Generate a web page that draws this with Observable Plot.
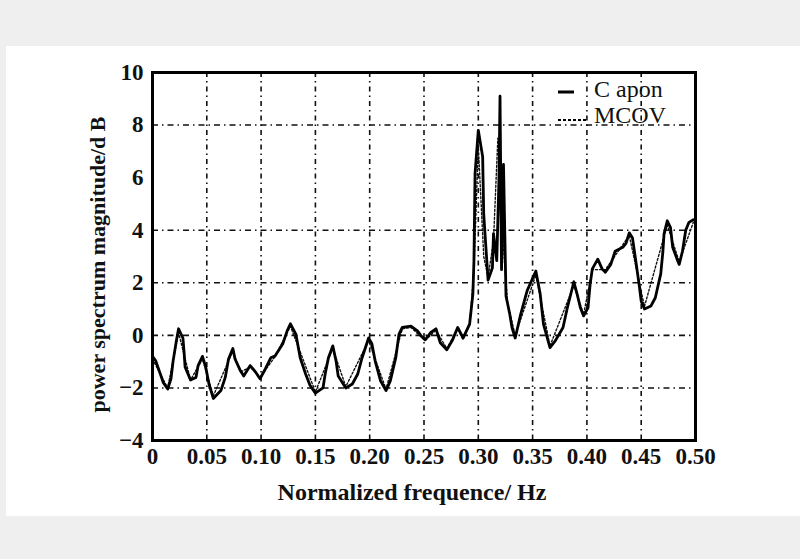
<!DOCTYPE html>
<html>
<head>
<meta charset="utf-8">
<script src="https://cdn.jsdelivr.net/npm/d3@7"></script>
<script src="https://cdn.jsdelivr.net/npm/@observablehq/plot@0.6"></script>
<style>
  html, body { margin: 0; padding: 0; background: #efefef; }
  #panel { position: absolute; left: 6px; top: 46px; width: 794px; height: 470px; background: #ffffff; }
  #chart { position: absolute; left: 0; top: 0; }
  #legend { position: absolute; left: 0; top: 0; }
</style>
</head>
<body>
<div id="panel"></div>
<div id="chart"></div>
<svg id="legend" width="800" height="559"></svg>
<script>
// ---- data ----
const freq = [0.000, 0.003, 0.010, 0.014, 0.017, 0.019, 0.022, 0.024, 0.028, 0.029, 0.030, 0.035, 0.040, 0.042, 0.046, 0.049, 0.052, 0.056, 0.063, 0.067, 0.070, 0.074, 0.076, 0.081, 0.084, 0.090, 0.095, 0.099, 0.104, 0.109, 0.113, 0.120, 0.124, 0.127, 0.132, 0.136, 0.141, 0.145, 0.150, 0.157, 0.159, 0.162, 0.166, 0.169, 0.171, 0.178, 0.184, 0.189, 0.193, 0.199, 0.202, 0.205, 0.210, 0.215, 0.219, 0.224, 0.227, 0.230, 0.238, 0.244, 0.247, 0.251, 0.256, 0.261, 0.265, 0.271, 0.276, 0.281, 0.286, 0.292, 0.295, 0.296, 0.297, 0.300, 0.304, 0.305, 0.307, 0.309, 0.313, 0.314, 0.317, 0.319, 0.320, 0.3214, 0.3232, 0.3255, 0.329, 0.331, 0.334, 0.339, 0.345, 0.353, 0.357, 0.360, 0.366, 0.371, 0.378, 0.382, 0.388, 0.391, 0.394, 0.397, 0.401, 0.403, 0.405, 0.410, 0.414, 0.417, 0.422, 0.426, 0.433, 0.436, 0.439, 0.442, 0.445, 0.448, 0.450, 0.453, 0.459, 0.463, 0.468, 0.470, 0.471, 0.474, 0.477, 0.479, 0.483, 0.485, 0.488, 0.491, 0.494, 0.498];
const capon = [-0.8, -0.97, -1.8, -2.04, -1.65, -0.97, -0.2, 0.25, -0.1, -0.6, -1.2, -1.7, -1.6, -1.15, -0.8, -1.2, -1.85, -2.4, -2.1, -1.6, -0.9, -0.5, -0.9, -1.35, -1.55, -1.15, -1.4, -1.65, -1.27, -0.85, -0.78, -0.32, 0.17, 0.44, 0.05, -0.85, -1.47, -1.9, -2.2, -2.0, -1.47, -0.85, -0.4, -0.97, -1.55, -2.0, -1.85, -1.47, -0.85, -0.1, -0.32, -0.97, -1.73, -2.1, -1.73, -0.85, 0.05, 0.3, 0.35, 0.17, 0.0, -0.17, 0.1, 0.25, -0.28, -0.55, -0.2, 0.3, -0.1, 0.43, 1.57, 2.84, 6.15, 7.8, 6.8, 4.6, 3.35, 2.1, 2.57, 3.87, 2.84, 5.9, 9.1, 2.5, 6.5, 1.5, 0.8, 0.3, -0.1, 0.8, 1.7, 2.45, 1.57, 0.43, -0.47, -0.2, 0.3, 1.05, 2.04, 1.57, 1.05, 0.74, 1.05, 1.96, 2.53, 2.9, 2.53, 2.4, 2.7, 3.2, 3.35, 3.5, 3.9, 3.7, 2.84, 1.96, 1.3, 1.0, 1.12, 1.43, 2.34, 3.2, 3.85, 4.36, 4.1, 3.35, 2.9, 2.7, 3.2, 4.0, 4.3, 4.4];

const mcovFreq = [0.000, 0.014, 0.024, 0.035, 0.046, 0.056, 0.074, 0.081, 0.090, 0.099, 0.113, 0.127, 0.150, 0.166, 0.178, 0.199, 0.215, 0.230, 0.238, 0.251, 0.261, 0.271, 0.281, 0.286, 0.292, 0.296, 0.300, 0.305, 0.309, 0.314, 0.318, 0.322, 0.327, 0.334, 0.353, 0.366, 0.388, 0.397, 0.405, 0.417, 0.439, 0.453, 0.474, 0.485, 0.498];
const mcov = [-0.9, -2.0, 0.1, -1.7, -0.9, -2.3, -0.6, -1.4, -1.2, -1.6, -0.8, 0.35, -2.15, -0.5, -1.95, -0.2, -2.05, 0.25, 0.3, -0.2, 0.2, -0.5, 0.25, -0.15, 0.4, 2.5, 7.2, 3.0, 2.2, 3.6, 7.5, 4.0, 1.2, 0.0, 2.3, -0.4, 1.9, 0.8, 2.5, 2.5, 3.8, 1.1, 4.2, 2.8, 4.3];

const xTicks = [0, 0.05, 0.10, 0.15, 0.20, 0.25, 0.30, 0.35, 0.40, 0.45, 0.50];
const xTickLabels = ["0", "0.05", "0.10", "0.15", "0.20", "0.25", "0.30", "0.35", "0.40", "0.45", "0.50"];
const yTicks = [-4, -2, 0, 2, 4, 6, 8, 10];
const yTickLabels = ["\u22124", "\u22122", "0", "2", "4", "6", "8", "10"];
const xGrid = [0.05, 0.10, 0.15, 0.20, 0.25, 0.30, 0.35, 0.40, 0.45];
const yGrid = [-2, 0, 2, 4, 8];
const seriesNames = ["C apon", "MCOV"];
const xLabel = "Normalized frequence/ Hz";
const yLabel = "power spectrum magnitude/d B";

const caponData = freq.map((f, i) => ({f, v: capon[i]}));
const mcovData = mcovFreq.map((f, i) => ({f, v: mcov[i]}));

const font = "'Liberation Serif', 'DejaVu Serif', serif";

const chart = Plot.plot({
  width: 800,
  height: 559,
  marginTop: 72,
  marginRight: 105,
  marginBottom: 119,
  marginLeft: 152,
  style: {background: "transparent", fontFamily: font, color: "#111"},
  x: {domain: [0, 0.5]},
  y: {domain: [-4, 10]},
  marks: [
    Plot.ruleX(xGrid, {stroke: "#111", strokeWidth: 1.6, strokeDasharray: "5,4,1.5,4"}),
    Plot.ruleY(yGrid, {stroke: "#111", strokeWidth: 1.6, strokeDasharray: "6,4,1.5,4"}),
    Plot.line(mcovData, {x: "f", y: "v", stroke: "#111", strokeWidth: 1.4, strokeDasharray: "2,2"}),
    Plot.line(caponData, {x: "f", y: "v", stroke: "#000", strokeWidth: 2.8, strokeLinejoin: "round"}),
    Plot.frame({stroke: "#000", strokeWidth: 3}),
    Plot.axisX({ticks: xTicks, tickFormat: (d, i) => xTickLabels[i], tickSize: 0, tickPadding: 7, fontSize: 23, fontWeight: "bold", label: null}),
    Plot.axisY({ticks: yTicks, tickFormat: (d, i) => yTickLabels[i], tickSize: 0, tickPadding: 9, fontSize: 23, fontWeight: "bold", label: null}),
    Plot.text([yLabel], {frameAnchor: "left", textAnchor: "middle", lineAnchor: "middle", rotate: -90, dx: -55, dy: 8, fontSize: 22, fontWeight: "bold", fill: "#111"}),
    Plot.text([xLabel], {frameAnchor: "bottom", textAnchor: "middle", lineAnchor: "middle", dx: -12, dy: 52, fontSize: 24, fontWeight: "bold", fill: "#111"})
  ]
});
document.getElementById("chart").appendChild(chart);

// legend (inside frame, top-right)
const lg = d3.select("#legend");
lg.append("line").attr("x1", 558).attr("x2", 574).attr("y1", 92).attr("y2", 92)
  .attr("stroke", "#000").attr("stroke-width", 3);
lg.append("line").attr("x1", 558).attr("x2", 588).attr("y1", 120).attr("y2", 120)
  .attr("stroke", "#000").attr("stroke-width", 2).attr("stroke-dasharray", "3,2");
lg.selectAll("text.lab").data(seriesNames).join("text")
  .attr("x", 594).attr("y", (d, i) => i === 0 ? 97 : 123)
  .attr("font-family", font).attr("font-size", 24).attr("fill", "#111")
  .text(d => d);
</script>
</body>
</html>
